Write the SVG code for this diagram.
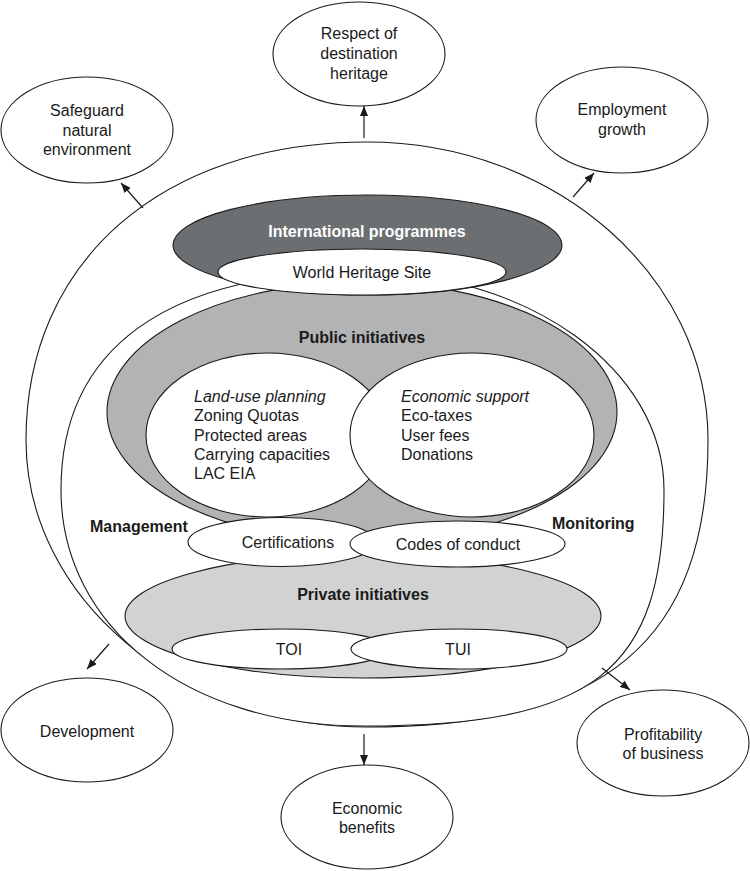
<svg xmlns="http://www.w3.org/2000/svg" width="750" height="871" viewBox="0 0 750 871">
<style>
.o{fill:#fff;stroke:#1a1a1a;stroke-width:1.1}
.t{font-family:"Liberation Sans",Arial,sans-serif;font-size:16px;fill:#1a1a1a}
.c{text-anchor:middle}
.b{font-weight:bold}
.i{font-style:italic}
.cn{fill:none;stroke:#1a1a1a;stroke-width:1.2}
</style>
<defs>
<marker id="ah" viewBox="0 0 10 8" refX="10" refY="4" markerWidth="10" markerHeight="8" orient="auto" markerUnits="userSpaceOnUse"><path d="M0,0 L10,4 L0,8 Z" fill="#1a1a1a"/></marker>
</defs>
<rect width="750" height="871" fill="#fff"/>
<g id="outer-sphere">
<path class="o" d="M367,142 C554.6,142 708,276.1 708,440 C708,640.9 605.7,727 367,727 C179.4,727 26,597.9 26,440 C26,261.2 162.4,142 367,142 Z"/>
</g>
<g id="inner-sphere">
<path class="o" d="M362.5,272 C528.3,272 664,370.1 664,490 C664,671.7 594.7,726 362.5,726 C187.6,726 61,626.9 61,490 C61,348.3 166.5,272 362.5,272 Z"/>
</g>
<g id="public-initiatives">
<ellipse cx="362" cy="412" rx="255" ry="130" fill="#b2b3b4" stroke="#1a1a1a" stroke-width="1.1"/>
<text class="t c b" x="362" y="343">Public initiatives</text>
</g>
<g id="international-programmes">
<ellipse cx="367.5" cy="245" rx="194.5" ry="50" fill="#6c6f71" stroke="#1a1a1a" stroke-width="1.1"/>
<text class="t c b" x="367" y="237" style="fill:#fff">International programmes</text>
</g>
<g id="world-heritage-site">
<ellipse class="o" cx="362" cy="272" rx="144" ry="23"/>
<text class="t c" x="362" y="278">World Heritage Site</text>
</g>
<g id="land-use-planning">
<ellipse class="o" cx="267" cy="435" rx="121" ry="82"/>
<text class="t i" x="194" y="402">Land-use planning</text>
<text class="t" x="194" y="421">Zoning Quotas</text>
<text class="t" x="194" y="441">Protected areas</text>
<text class="t" x="194" y="460">Carrying capacities</text>
<text class="t" x="194" y="479">LAC EIA</text>
</g>
<g id="economic-support">
<ellipse class="o" cx="472" cy="435" rx="122" ry="82"/>
<text class="t i" x="401" y="402">Economic support</text>
<text class="t" x="401" y="421">Eco-taxes</text>
<text class="t" x="401" y="441">User fees</text>
<text class="t" x="401" y="460">Donations</text>
</g>
<g id="private-initiatives">
<ellipse cx="363" cy="616" rx="238" ry="62" fill="#d1d2d2" stroke="#1a1a1a" stroke-width="1.1"/>
<text class="t c b" x="363" y="600">Private initiatives</text>
</g>
<g id="toi">
<ellipse class="o" cx="281" cy="649" rx="109" ry="20"/>
<text class="t c" x="289" y="655">TOI</text>
</g>
<g id="tui">
<ellipse class="o" cx="459" cy="649" rx="108" ry="20"/>
<text class="t c" x="458" y="655">TUI</text>
</g>
<g id="certifications">
<ellipse class="o" cx="282" cy="542" rx="94" ry="24.5"/>
<text class="t c" x="288" y="548">Certifications</text>
</g>
<g id="codes-of-conduct">
<ellipse class="o" cx="457.5" cy="544" rx="107.5" ry="23"/>
<text class="t c" x="458" y="550">Codes of conduct</text>
</g>
<g id="management">
<text class="t b" x="90" y="532">Management</text>
</g>
<g id="monitoring">
<text class="t b" x="552" y="529">Monitoring</text>
</g>
<g id="respect-heritage">
<ellipse class="o" cx="359" cy="54" rx="86" ry="52"/>
<text class="t c" x="359" y="39">Respect of</text>
<text class="t c" x="359" y="59">destination</text>
<text class="t c" x="359" y="79">heritage</text>
</g>
<g id="safeguard-environment">
<ellipse class="o" cx="87" cy="130" rx="86" ry="53"/>
<text class="t c" x="87" y="116">Safeguard</text>
<text class="t c" x="87" y="136">natural</text>
<text class="t c" x="87" y="155">environment</text>
</g>
<g id="employment-growth">
<ellipse class="o" cx="622" cy="120" rx="86" ry="53"/>
<text class="t c" x="622" y="115">Employment</text>
<text class="t c" x="622" y="135">growth</text>
</g>
<g id="development">
<ellipse class="o" cx="87" cy="730" rx="86" ry="52"/>
<text class="t c" x="87" y="737">Development</text>
</g>
<g id="economic-benefits">
<ellipse class="o" cx="367" cy="817" rx="86" ry="52"/>
<text class="t c" x="367" y="814">Economic</text>
<text class="t c" x="367" y="833">benefits</text>
</g>
<g id="profitability-business">
<ellipse class="o" cx="663" cy="743" rx="86" ry="53"/>
<text class="t c" x="663" y="740">Profitability</text>
<text class="t c" x="663" y="759">of business</text>
</g>
<g id="connectors">
<line class="cn" x1="364" y1="138" x2="364" y2="106" marker-end="url(#ah)"/>
<line class="cn" x1="143" y1="208" x2="121" y2="183" marker-end="url(#ah)"/>
<line class="cn" x1="573" y1="197" x2="594" y2="173" marker-end="url(#ah)"/>
<line class="cn" x1="109" y1="644" x2="87" y2="669" marker-end="url(#ah)"/>
<line class="cn" x1="364" y1="734" x2="364" y2="765" marker-end="url(#ah)"/>
<line class="cn" x1="602" y1="668" x2="630" y2="690" marker-end="url(#ah)"/>
</g>
</svg>
